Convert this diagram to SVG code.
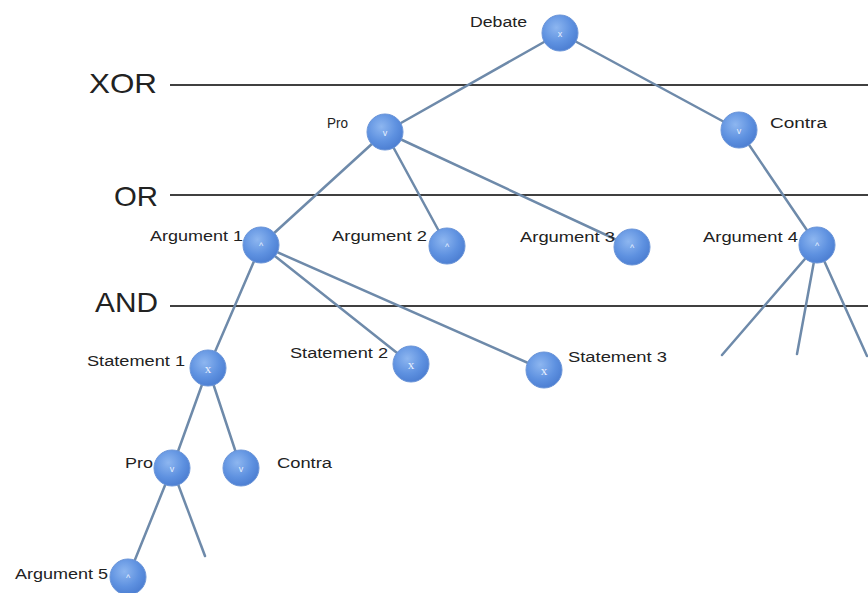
<svg xmlns="http://www.w3.org/2000/svg" width="868" height="593" viewBox="0 0 868 593">
<defs>
<radialGradient id="g" cx="0.4" cy="0.35" r="0.7">
<stop offset="0" stop-color="#8db6f0"/>
<stop offset="0.6" stop-color="#5e91e0"/>
<stop offset="1" stop-color="#4a7cd0"/>
</radialGradient>
</defs>
<style>
.lvl{stroke:#000;stroke-width:1.5}
.lvt{font-family:"Liberation Sans",Arial,sans-serif;font-size:28px;fill:#222}
.e{stroke:#6e8aaa;stroke-width:2.5;fill:none;stroke-linecap:round}
.n{fill:url(#g);stroke:#6b95d8;stroke-width:1}
.lb{font-family:"Liberation Sans",Arial,sans-serif;font-size:14px;fill:#222}
.s{font-family:"Liberation Sans",Arial,sans-serif;font-size:9px;fill:#e8f0ff;text-anchor:middle}
.sx{font-family:"Liberation Serif","Times New Roman",serif;font-size:13px;fill:#e8f0ff;text-anchor:middle}
</style>
<rect width="868" height="593" fill="#fff"/>
<g id="levels">
<line class="lvl" x1="170" y1="85" x2="868" y2="85"/>
<text class="lvt" x="89" y="93" textLength="68" lengthAdjust="spacingAndGlyphs">XOR</text>
<line class="lvl" x1="170" y1="195" x2="868" y2="195"/>
<text class="lvt" x="114" y="206" textLength="44" lengthAdjust="spacingAndGlyphs">OR</text>
<line class="lvl" x1="170" y1="306" x2="868" y2="306"/>
<text class="lvt" x="95" y="312" textLength="63" lengthAdjust="spacingAndGlyphs">AND</text>
</g>
<g id="connectors">
<line class="e" x1="560" y1="33" x2="385" y2="132"/>
<line class="e" x1="560" y1="33" x2="739" y2="130"/>
<line class="e" x1="385" y1="132" x2="261" y2="245"/>
<line class="e" x1="385" y1="132" x2="447" y2="246"/>
<line class="e" x1="385" y1="132" x2="632" y2="247"/>
<line class="e" x1="739" y1="130" x2="817" y2="245"/>
<line class="e" x1="817" y1="245" x2="722" y2="355"/>
<line class="e" x1="817" y1="245" x2="797" y2="354"/>
<line class="e" x1="817" y1="245" x2="867" y2="356"/>
<line class="e" x1="261" y1="245" x2="208" y2="368"/>
<line class="e" x1="261" y1="245" x2="411" y2="364"/>
<line class="e" x1="261" y1="245" x2="544" y2="370"/>
<line class="e" x1="208" y1="368" x2="172" y2="468"/>
<line class="e" x1="208" y1="368" x2="241" y2="468"/>
<line class="e" x1="172" y1="468" x2="128" y2="577"/>
<line class="e" x1="172" y1="468" x2="205" y2="556"/>
</g>
<g id="debate"><circle class="n" cx="560" cy="33" r="18"/><text class="s" x="560" y="37">x</text><text class="lb" x="470" y="27" textLength="57" lengthAdjust="spacingAndGlyphs">Debate</text></g>
<g id="pro1"><circle class="n" cx="385" cy="132" r="18"/><text class="s" x="385" y="136">v</text><text class="lb" x="327" y="128" textLength="21" lengthAdjust="spacingAndGlyphs">Pro</text></g>
<g id="contra1"><circle class="n" cx="739" cy="130" r="18"/><text class="s" x="739" y="134">v</text><text class="lb" x="770" y="128" textLength="57" lengthAdjust="spacingAndGlyphs">Contra</text></g>
<g id="arg1"><circle class="n" cx="261" cy="245" r="18"/><text class="s" x="261" y="249">^</text><text class="lb" x="150" y="241" textLength="93" lengthAdjust="spacingAndGlyphs">Argument 1</text></g>
<g id="arg2"><circle class="n" cx="447" cy="246" r="18"/><text class="s" x="447" y="250">^</text><text class="lb" x="332" y="241" textLength="95" lengthAdjust="spacingAndGlyphs">Argument 2</text></g>
<g id="arg3"><circle class="n" cx="632" cy="247" r="18"/><text class="s" x="632" y="251">^</text><text class="lb" x="520" y="242" textLength="95" lengthAdjust="spacingAndGlyphs">Argument 3</text></g>
<g id="arg4"><circle class="n" cx="817" cy="245" r="18"/><text class="s" x="817" y="249">^</text><text class="lb" x="703" y="242" textLength="95" lengthAdjust="spacingAndGlyphs">Argument 4</text></g>
<g id="st1"><circle class="n" cx="208" cy="368" r="18"/><text class="sx" x="208" y="373">x</text><text class="lb" x="87" y="366" textLength="98" lengthAdjust="spacingAndGlyphs">Statement 1</text></g>
<g id="st2"><circle class="n" cx="411" cy="364" r="18"/><text class="sx" x="411" y="369">x</text><text class="lb" x="290" y="358" textLength="98" lengthAdjust="spacingAndGlyphs">Statement 2</text></g>
<g id="st3"><circle class="n" cx="544" cy="370" r="18"/><text class="sx" x="544" y="375">x</text><text class="lb" x="568" y="362" textLength="99" lengthAdjust="spacingAndGlyphs">Statement 3</text></g>
<g id="pro2"><circle class="n" cx="172" cy="468" r="18"/><text class="s" x="172" y="472">v</text><text class="lb" x="125" y="468" textLength="28" lengthAdjust="spacingAndGlyphs">Pro</text></g>
<g id="contra2"><circle class="n" cx="241" cy="468" r="18"/><text class="s" x="241" y="472">v</text><text class="lb" x="277" y="468" textLength="55" lengthAdjust="spacingAndGlyphs">Contra</text></g>
<g id="arg5"><circle class="n" cx="128" cy="577" r="18"/><text class="s" x="128" y="581">^</text><text class="lb" x="15" y="579" textLength="93" lengthAdjust="spacingAndGlyphs">Argument 5</text></g>
</svg>
